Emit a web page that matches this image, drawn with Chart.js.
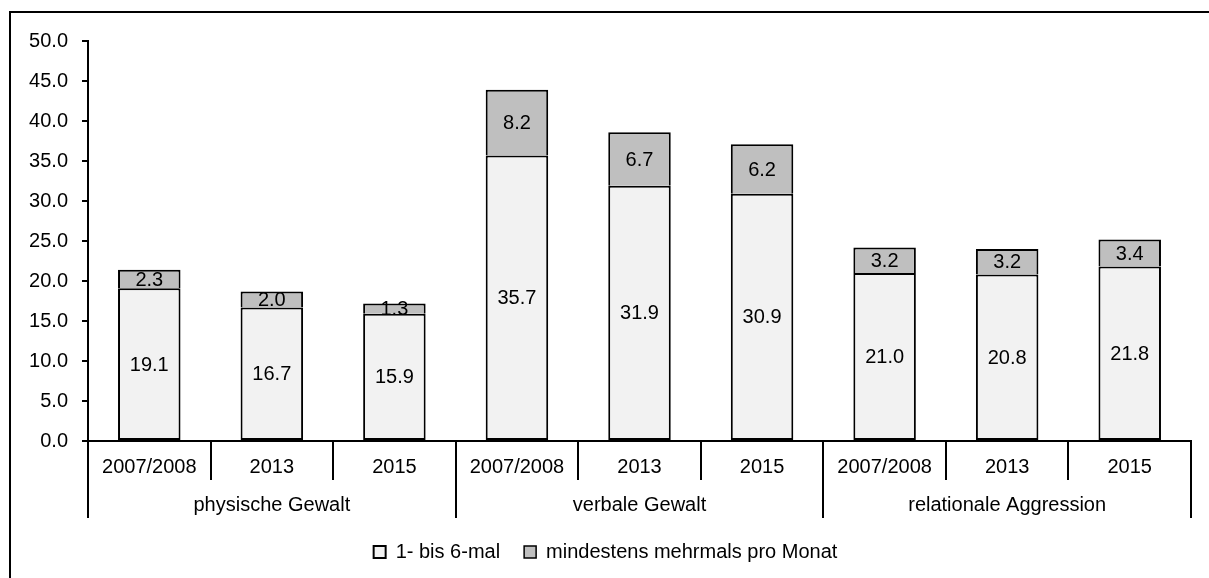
<!DOCTYPE html>
<html>
<head>
    <title>Gewalt nach Erhebungsjahr</title>
    <script src="https://cdn.jsdelivr.net/npm/chart.js"></script>
    <style>
        html, body {
            margin: 0;
            padding: 0;
            background-color: white;
            overflow: hidden;
        }
        #frame {
            position: absolute;
            left: 9px;
            top: 11px;
            width: 1400px;
            height: 800px;
            border-left: 2px solid #000;
            border-top: 2px solid #000;
        }
        #wrap {
            position: absolute;
            left: 0;
            top: 0;
            width: 1209px;
            height: 578px;
        }
    </style>
</head>
<body>
    <div id="frame"></div>
    <div id="wrap"><canvas id="gewaltChart"></canvas></div>

    <script>
        const groups = ['physische Gewalt', 'verbale Gewalt', 'relationale Aggression'];
        const years = ['2007/2008', '2013', '2015'];
        const seriesNames = ['1- bis 6-mal', 'mindestens mehrmals pro Monat'];
        const lowValues = [19.1, 16.7, 15.9, 35.7, 31.9, 30.9, 21.0, 20.8, 21.8];
        const highValues = [2.3, 2.0, 1.3, 8.2, 6.7, 6.2, 3.2, 3.2, 3.4];
        const yTicks = [0, 5, 10, 15, 20, 25, 30, 35, 40, 45, 50];

        const categories = groups.flatMap(() => years);
        const fontFamily = '"Liberation Sans", Arial, sans-serif';

        Chart.defaults.font.family = fontFamily;
        Chart.defaults.font.size = 20;
        Chart.defaults.color = '#000';

        // value labels centred in each bar segment
        const segmentLabels = {
            id: 'segmentLabels',
            afterDatasetsDraw(chart) {
                let ctx = chart.ctx;
                ctx.save();
                ctx.font = '20px ' + fontFamily;
                ctx.fillStyle = '#000';
                ctx.textAlign = 'center';
                ctx.textBaseline = 'middle';
                chart.data.datasets.forEach((ds, i) => {
                    chart.getDatasetMeta(i).data.forEach((bar, j) => {
                        let yMid = (bar.y + bar.base) / 2;
                        ctx.fillText(ds.data[j].toFixed(1), bar.x, yMid + 1);
                    });
                });
                ctx.restore();
            }
        };

        // separator lines of the two level category axis
        const categoryLines = {
            id: 'categoryLines',
            afterDraw(chart) {
                let ctx = chart.ctx;
                let x = chart.scales.x;
                let x2 = chart.scales.x2;
                let half = (x.getPixelForValue(1) - x.getPixelForValue(0)) / 2;
                let groupHalf = (x2.getPixelForValue(1) - x2.getPixelForValue(0)) / 2;
                ctx.save();
                ctx.strokeStyle = '#000';
                ctx.lineWidth = 2;
                ctx.beginPath();
                categories.forEach((c, i) => {
                    let px = Math.round(x.getPixelForValue(i) + half);
                    ctx.moveTo(px, x.top);
                    ctx.lineTo(px, x.bottom);
                });
                groups.forEach((g, i) => {
                    let left = Math.round(x2.getPixelForValue(i) - groupHalf);
                    let right = Math.round(x2.getPixelForValue(i) + groupHalf);
                    ctx.moveTo(left, x.top);
                    ctx.lineTo(left, x2.bottom);
                    ctx.moveTo(right, x.top);
                    ctx.lineTo(right, x2.bottom);
                });
                ctx.stroke();
                ctx.restore();
            }
        };

        let ctx = document.getElementById('gewaltChart').getContext('2d');
        let gewaltChart = new Chart(ctx, {
            type: 'bar',
            data: {
                labels: categories,
                datasets: [{
                    label: seriesNames[0],
                    data: lowValues,
                    backgroundColor: '#f2f2f2',
                    borderColor: '#000',
                    borderWidth: {top: 2, left: 2, right: 2, bottom: 2},
                    borderSkipped: false
                }, {
                    label: seriesNames[1],
                    data: highValues,
                    backgroundColor: '#bfbfbf',
                    borderColor: '#000',
                    borderWidth: {top: 2, left: 2, right: 2, bottom: 0},
                    borderSkipped: false
                }]
            },
            options: {
                responsive: true,
                maintainAspectRatio: false,
                animation: false,
                layout: {
                    padding: {left: 20, top: 41, right: 18, bottom: 6}
                },
                datasets: {
                    bar: {
                        categoryPercentage: 1.0,
                        barPercentage: 0.51
                    }
                },
                plugins: {
                    tooltip: {enabled: false},
                    legend: {
                        position: 'bottom',
                        labels: {
                            boxWidth: 12,
                            boxHeight: 12,
                            padding: 24,
                            color: '#000',
                            font: {size: 20}
                        }
                    }
                },
                scales: {
                    x: {
                        stacked: true,
                        weight: 0,
                        offset: true,
                        afterFit: (scale) => { scale.height = 39; },
                        grid: {display: false, drawTicks: false},
                        border: {color: '#000', width: 2},
                        ticks: {
                            padding: 14,
                            autoSkip: false,
                            maxRotation: 0,
                            minRotation: 0
                        }
                    },
                    x2: {
                        type: 'category',
                        position: 'bottom',
                        labels: groups,
                        weight: 1,
                        offset: true,
                        afterFit: (scale) => { scale.height = 38; },
                        grid: {display: false, drawTicks: false},
                        border: {display: false},
                        ticks: {
                            padding: 13,
                            autoSkip: false,
                            maxRotation: 0,
                            minRotation: 0
                        }
                    },
                    y: {
                        stacked: true,
                        min: 0,
                        max: 50,
                        afterFit: (scale) => { scale.width = 68; },
                        afterBuildTicks: (scale) => {
                            scale.ticks = yTicks.map(v => ({value: v}));
                        },
                        grid: {
                            drawOnChartArea: false,
                            drawTicks: true,
                            tickLength: 6,
                            color: '#000',
                            lineWidth: 2
                        },
                        border: {color: '#000', width: 2},
                        ticks: {
                            padding: 14,
                            callback: (v) => Number(v).toFixed(1)
                        }
                    }
                }
            },
            plugins: [segmentLabels, categoryLines]
        });
    </script>
</body>
</html>
